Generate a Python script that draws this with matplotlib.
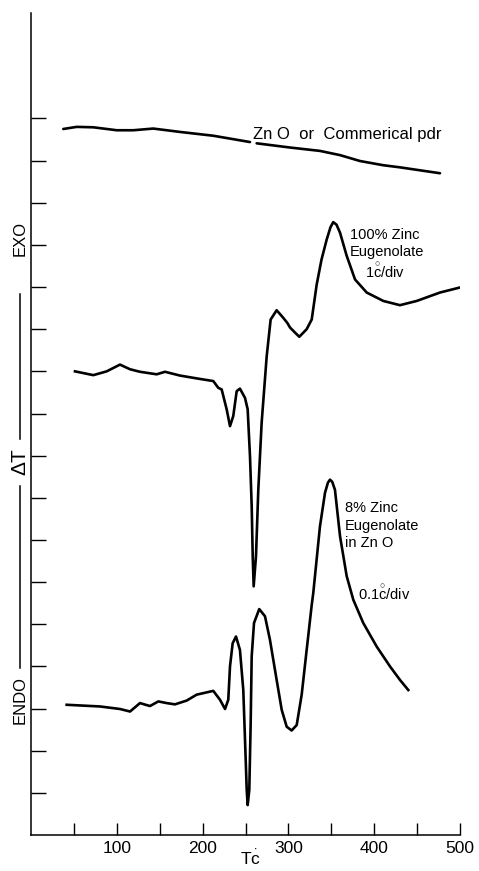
import numpy as np
import matplotlib
matplotlib.use("Agg")
import matplotlib.pyplot as plt
from matplotlib.lines import Line2D

plt.rcParams['font.family'] = ['Liberation Sans', 'DejaVu Sans']
plt.rcParams['mathtext.fontset'] = 'custom'
plt.rcParams['mathtext.rm'] = 'Liberation Sans'
plt.rcParams['mathtext.it'] = 'Liberation Sans:italic'
plt.rcParams['mathtext.bf'] = 'Liberation Sans:bold'

# ZnO / commercial powder (nan = small break in the trace)
zno_t = [37.4, 53.0, 72.4, 99.7, 119.0, 142.3, 173.5, 212.3, 255.1, np.nan,
         262.9, 301.8, 336.7, 360.1, 383.4, 410.6, 430.0, 453.3, 476.7]
zno_dt = [16.75, 16.80, 16.79, 16.72, 16.72, 16.76, 16.68, 16.59, 16.44, np.nan,
          16.41, 16.31, 16.23, 16.13, 15.99, 15.89, 15.84, 15.77, 15.70]

# 100% zinc eugenolate
zeu_t = [51.0, 72.4, 88.0, 103.5, 115.2, 126.8, 146.3, 156.0, 173.5, 196.8,
         212.3, 218.1, 222.1, 227.9, 231.8, 235.6, 239.6, 243.4, 249.3, 252.4,
         255.1, 257.1, 258.3, 259.4, 262.1, 264.8, 268.7, 274.6, 279.2, 286.2,
         293.9, 298.6, 301.8, 307.6, 312.6, 321.2, 327.1, 332.9, 338.5, 344.6,
         349.0, 352.2, 356.0, 360.1, 367.9, 377.6, 391.2, 410.6, 430.0, 449.5,
         476.7, 500.0]
zeu_dt = [11.00, 10.91, 11.00, 11.16, 11.05, 10.99, 10.93, 10.99, 10.90, 10.82,
          10.77, 10.61, 10.57, 10.10, 9.70, 9.94, 10.53, 10.59, 10.37, 10.10,
          8.99, 7.80, 6.61, 5.90, 6.61, 8.19, 9.78, 11.36, 12.23, 12.45,
          12.27, 12.15, 12.04, 11.92, 11.82, 12.00, 12.23, 13.06, 13.65, 14.13,
          14.42, 14.54, 14.48, 14.29, 13.74, 13.18, 12.87, 12.67, 12.57, 12.67,
          12.87, 12.99]

# 8% zinc eugenolate in ZnO
ez8_t = [41.3, 80.2, 103.5, 115.2, 126.8, 138.5, 148.2, 158.0, 167.6, 181.3,
         192.9, 212.3, 220.1, 226.0, 229.8, 231.8, 234.9, 238.8, 243.4, 247.3,
         249.3, 251.3, 252.4, 254.3, 255.9, 257.1, 259.8, 265.9, 272.6, 278.4,
         286.2, 292.1, 297.9, 303.7, 309.6, 315.4, 321.2, 327.1, 328.9, 336.7,
         342.6, 346.0, 348.4, 351.0, 354.2, 360.1, 367.9, 375.6, 387.2, 402.9,
         418.4, 430.0, 439.7]
ez8_dt = [3.09, 3.05, 2.99, 2.93, 3.13, 3.06, 3.17, 3.13, 3.10, 3.19,
          3.33, 3.42, 3.21, 2.99, 3.21, 4.00, 4.55, 4.71, 4.39, 3.44,
          2.26, 1.07, 0.71, 1.07, 2.65, 4.24, 5.03, 5.36, 5.19, 4.63,
          3.68, 2.97, 2.57, 2.48, 2.61, 3.33, 4.39, 5.46, 5.74, 7.32,
          8.12, 8.36, 8.43, 8.38, 8.19, 7.09, 6.14, 5.58, 5.03, 4.47,
          4.00, 3.68, 3.44]

x_ticks = [50, 100, 150, 200, 250, 300, 350, 400, 450, 500]
x_labels = ['', '100', '', '200', '', '300', '', '400', '', '500']
y_ticks = list(range(1, 18))

fig = plt.figure(figsize=(4.79, 8.71), dpi=100)
ax = fig.add_axes([0.0652, 0.0413, 0.8951, 0.9437])

lw = 1.9
ax.plot(zno_t, zno_dt, color='black', lw=lw, solid_capstyle='round')
ax.plot(zeu_t, zeu_dt, color='black', lw=lw, solid_joinstyle='round')
ax.plot(ez8_t, ez8_dt, color='black', lw=lw, solid_joinstyle='round')

ax.set_xlim(0, 500)
ax.set_ylim(0, 19.5)
ax.spines['top'].set_visible(False)
ax.spines['right'].set_visible(False)
for s in ('left', 'bottom'):
    ax.spines[s].set_linewidth(1.1)

ax.set_xticks(x_ticks)
ax.set_xticklabels(x_labels, fontsize=12.5)
ax.set_yticks(y_ticks)
ax.set_yticklabels([])
ax.tick_params(axis='x', direction='in', length=9, width=1.0, pad=4)
ax.tick_params(axis='y', direction='in', length=11, width=1.0)

# curve labels
deg_c = r'$\overset{\circ}{\mathrm{c}}$'
ax.text(258.7, 16.52, 'Zn O  or  Commerical pdr', fontsize=12, va='baseline')
ax.text(371.7, 14.15, '100% Zinc', fontsize=10.5, va='baseline')
ax.text(371.7, 13.74, 'Eugenolate', fontsize=10.5, va='baseline')
ax.text(389.2, 13.22, '1' + deg_c + '/div', fontsize=10.5, va='baseline')
ax.text(365.9, 7.66, '8% Zinc', fontsize=10.5, va='baseline')
ax.text(365.9, 7.24, 'Eugenolate', fontsize=10.5, va='baseline')
ax.text(365.9, 6.83, 'in Zn O', fontsize=10.5, va='baseline')
ax.text(381.4, 5.58, '0.1' + deg_c + '/div', fontsize=10.5, va='baseline')

ax.text(256, -0.3, r'T$\overset{\bullet}{\mathrm{c}}$', fontsize=12.5,
        ha='center', va='top')

# vertical ENDO -- dT -- EXO label
lx = 0.0418
fig.text(lx, 0.7268, 'EXO', rotation=90, fontsize=12, ha='center', va='center')
fig.text(lx, 0.4696, r'$\Delta$T', rotation=90, fontsize=15, ha='center', va='center')
fig.text(lx, 0.1963, 'ENDO', rotation=90, fontsize=12, ha='center', va='center')
fig.add_artist(Line2D([lx, lx], [0.6624, 0.4960], transform=fig.transFigure,
                      color='black', lw=1.1))
fig.add_artist(Line2D([lx, lx], [0.4420, 0.2331], transform=fig.transFigure,
                      color='black', lw=1.1))

fig.savefig('out.png', dpi=100)
